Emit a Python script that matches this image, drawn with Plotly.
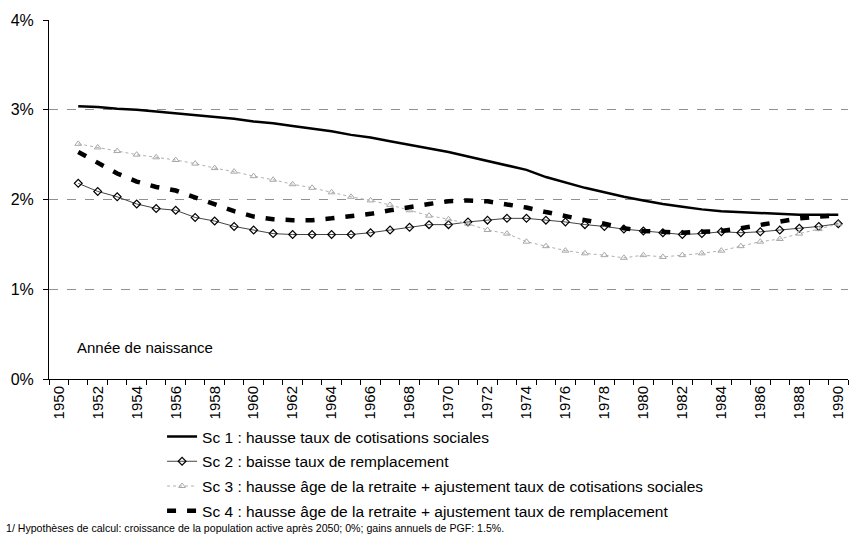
import plotly.graph_objects as go

years = list(range(1951, 1991))

sc1 = [3.04, 3.03, 3.01, 3.00, 2.98, 2.96, 2.94, 2.92, 2.90, 2.87,
       2.85, 2.82, 2.79, 2.76, 2.72, 2.69, 2.65, 2.61, 2.57, 2.53,
       2.48, 2.43, 2.38, 2.33, 2.25, 2.19, 2.13, 2.08, 2.03, 1.99,
       1.95, 1.92, 1.89, 1.87, 1.86, 1.85, 1.84, 1.83, 1.83, 1.83]

sc2 = [2.18, 2.09, 2.03, 1.95, 1.90, 1.88, 1.80, 1.76, 1.70, 1.66,
       1.62, 1.61, 1.61, 1.61, 1.61, 1.63, 1.66, 1.69, 1.72, 1.72,
       1.75, 1.77, 1.79, 1.79, 1.77, 1.75, 1.72, 1.70, 1.67, 1.65,
       1.63, 1.61, 1.62, 1.64, 1.63, 1.64, 1.66, 1.68, 1.70, 1.73]

sc3 = [2.62, 2.58, 2.54, 2.50, 2.47, 2.44, 2.40, 2.35, 2.31, 2.26,
       2.22, 2.17, 2.13, 2.08, 2.03, 1.99, 1.94, 1.88, 1.82, 1.78,
       1.73, 1.66, 1.62, 1.53, 1.48, 1.43, 1.40, 1.38, 1.35, 1.38,
       1.36, 1.38, 1.40, 1.43, 1.48, 1.53, 1.56, 1.62, 1.67, 1.73]

sc4 = [2.53, 2.41, 2.29, 2.20, 2.14, 2.10, 2.02, 1.94, 1.87, 1.81,
       1.78, 1.77, 1.77, 1.79, 1.81, 1.84, 1.88, 1.92, 1.95, 1.98,
       1.99, 1.98, 1.95, 1.91, 1.86, 1.81, 1.77, 1.73, 1.68, 1.65,
       1.64, 1.63, 1.64, 1.65, 1.68, 1.72, 1.76, 1.79, 1.81, 1.82]

names = [
    "Sc 1 : hausse taux de cotisations sociales",
    "Sc 2 : baisse taux de remplacement",
    "Sc 3 : hausse âge de la retraite + ajustement taux de cotisations sociales",
    "Sc 4 : hausse âge de la retraite + ajustement taux de remplacement",
]

x_tick_years = list(range(1950, 1991, 2))
y_ticks = [0, 1, 2, 3, 4]
y_tick_labels = ["0%", "1%", "2%", "3%", "4%"]

FONT = "Liberation Sans, Arial, sans-serif"

fig = go.Figure()
fig.add_trace(go.Scatter(x=years, y=sc1, name=names[0], mode="lines",
                         line=dict(color="black", width=2.5), legendgroup="a"))
fig.add_trace(go.Scatter(x=years, y=sc2, name=names[1], mode="lines+markers",
                         line=dict(color="#444444", width=1),
                         marker=dict(symbol="diamond-open", size=6, color="black",
                                     line=dict(width=1.2)),
                         legendgroup="b"))
fig.add_trace(go.Scatter(x=years, y=sc3, name=names[2], mode="lines+markers",
                         line=dict(color="#b0b0b0", width=1, dash="dot"),
                         marker=dict(symbol="triangle-up-open", size=6, color="#a8a8a8",
                                     line=dict(width=1)),
                         legendgroup="c"))
fig.add_trace(go.Scatter(x=years, y=sc4, name=names[3], mode="lines",
                         line=dict(color="black", width=4.5, dash="9px,11px"),
                         legendgroup="d"))

fig.update_layout(
    width=849, height=535,
    margin=dict(l=49, r=1, t=20, b=156, autoexpand=False),
    paper_bgcolor="white", plot_bgcolor="white",
    font=dict(family=FONT, color="black"),
    showlegend=True,
    legend=dict(x=0.1415, y=-0.114, xanchor="left", yanchor="top",
                font=dict(size=15.5, family=FONT), tracegroupgap=1.6,
                bgcolor="rgba(0,0,0,0)", itemwidth=30),
    xaxis=dict(range=[1949.5, 1990.5], tickmode="array", tickvals=x_tick_years,
               ticktext=[str(v) for v in x_tick_years], tickangle=-90,
               tickfont=dict(size=15, family=FONT), ticks="", automargin=False,
               showgrid=False, zeroline=False, showline=True,
               linecolor="black", linewidth=1,
               minor=dict(tickmode="array", tickvals=[1949.5 + k for k in range(42)],
                          ticks="outside", ticklen=5, tickcolor="black", showgrid=False)),
    yaxis=dict(range=[0, 4], tickmode="array", tickvals=y_ticks, ticktext=y_tick_labels,
               tickfont=dict(size=16, family=FONT), ticks="outside", ticklen=5,
               tickcolor="black", showline=True, linecolor="black", linewidth=1,
               showgrid=True, gridcolor="#909090", gridwidth=1, griddash="dash",
               zeroline=False, ticklabelstandoff=6, automargin=False),
    annotations=[
        dict(text="Année de naissance", xref="paper", yref="paper",
             x=(75 - 49) / 799, y=(379 - 347) / 359, xanchor="left", yanchor="middle",
             showarrow=False, font=dict(size=15, family=FONT)),
        dict(text="1/ Hypothèses de calcul: croissance de la population active après 2050; 0%; gains annuels de PGF: 1.5%.",
             xref="paper", yref="paper", x=(4 - 49) / 799, y=(379 - 528) / 359,
             xanchor="left", yanchor="middle", showarrow=False,
             font=dict(size=10.6, family=FONT)),
    ],
)

fig.write_html("out.html", config={"displayModeBar": False},
               post_script="document.body.style.margin='0';document.body.style.overflow='hidden';")
